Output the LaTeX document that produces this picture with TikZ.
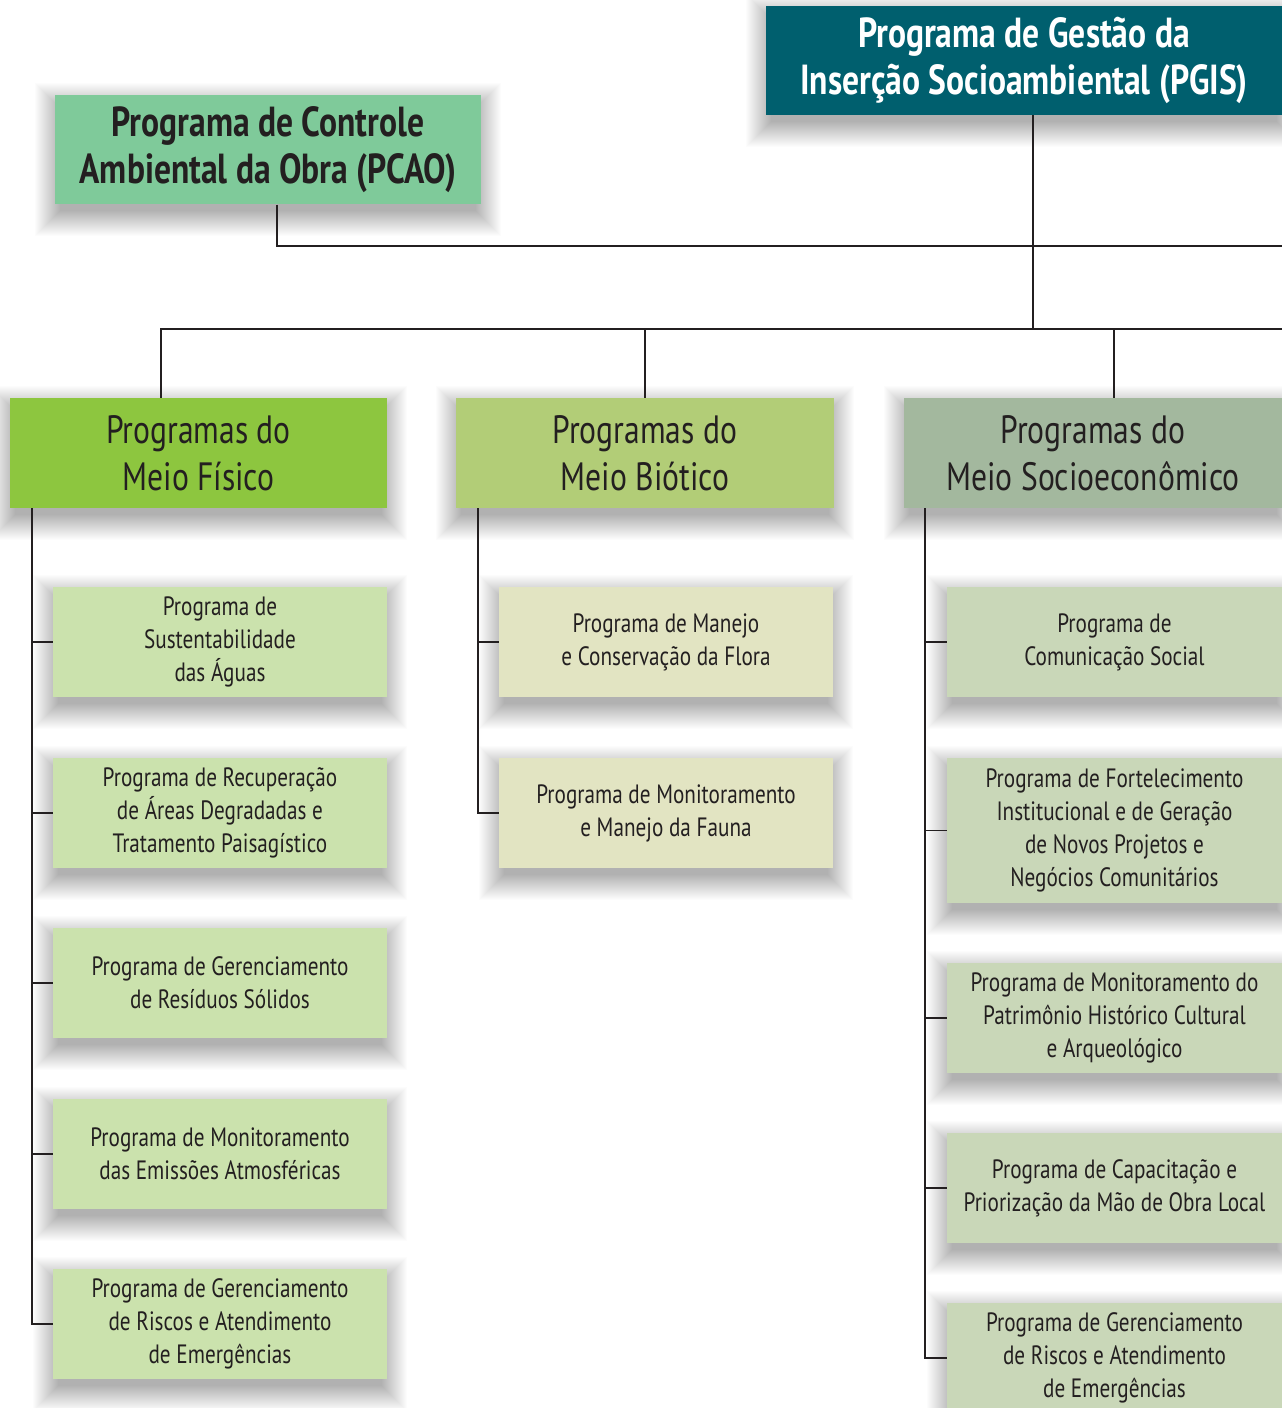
\documentclass[tikz,border=0pt]{standalone}
\usepackage{fontspec}
\setmainfont[FakeStretch=0.80]{PT Sans}
\usetikzlibrary{calc}
\pgfdeclarelayer{shadowlayer}
\pgfsetlayers{shadowlayer,main}
\definecolor{pgisc}{HTML}{005F6E}
\definecolor{pcaoc}{HTML}{7FCA9A}
\definecolor{fisc}{HTML}{8DC63F}
\definecolor{bioc}{HTML}{B2CD77}
\definecolor{socc}{HTML}{A3B89E}
\definecolor{fisl}{HTML}{CBE2AD}
\definecolor{biol}{HTML}{E2E4C2}
\definecolor{socl}{HTML}{C9D7B8}
\definecolor{ink}{HTML}{231F20}
\tikzset{
  boxbase/.style={rectangle, inner sep=0pt, align=center, text=ink},
  topbox/.style={boxbase, minimum height=109, font=\fontsize{42}{47}\selectfont\bfseries},
  headbox/.style={boxbase, minimum width=378, minimum height=110, font=\fontsize{39.5}{47}\selectfont},
  subbox/.style={boxbase, minimum width=335, minimum height=110, font=\fontsize{26.5}{33}\selectfont},
  conn/.style={draw=ink, line width=1.3pt},
  shadowpiece/.style={fill=black, fill opacity=0.011, draw=none}
}
\begin{document}
\begin{tikzpicture}[x=1pt,y=-1pt]
\useasboundingbox (0,0) rectangle (1282,1408);

% top boxes
\node[topbox, fill=pgisc, text=white, minimum width=516] (pgis) at (1024,60.5) {Programa de Gestão da\\Inserção Socioambiental (PGIS)};
\node[topbox, fill=pcaoc, minimum width=426] (pcao) at (268,149.5) {Programa de Controle\\Ambiental da Obra (PCAO)};

% headers
\node[headbox, fill=fisc, minimum width=377] (fis) at (198.5,453) {Programas do\\Meio Físico};
\node[headbox, fill=bioc] (bio) at (645,453) {Programas do\\Meio Biótico};
\node[headbox, fill=socc] (soc) at (1093,453) {Programas do\\Meio Socioeconômico};

% physical
\node[subbox, fill=fisl, minimum width=334] (f1) at (220,642) {Programa de\\Sustentabilidade\\das Águas};
\node[subbox, fill=fisl, minimum width=334] (f2) at (220,813) {Programa de Recuperação\\de Áreas Degradadas e\\Tratamento Paisagístico};
\node[subbox, fill=fisl, minimum width=334] (f3) at (220,983) {Programa de Gerenciamento\\de Resíduos Sólidos};
\node[subbox, fill=fisl, minimum width=334] (f4) at (220,1154) {Programa de Monitoramento\\das Emissões Atmosféricas};
\node[subbox, fill=fisl, minimum width=334] (f5) at (220,1324) {Programa de Gerenciamento\\de Riscos e Atendimento\\de Emergências};

% biotic
\node[subbox, fill=biol, minimum width=334] (b1) at (666,642) {Programa de Manejo\\e Conservação da Flora};
\node[subbox, fill=biol, minimum width=334] (b2) at (666,813) {Programa de Monitoramento\\e Manejo da Fauna};

% socio
\node[subbox, fill=socl] (s1) at (1114.5,642) {Programa de\\Comunicação Social};
\node[subbox, fill=socl, minimum height=145] (s2) at (1114.5,830.5) {Programa de Fortelecimento\\Institucional e de Geração\\de Novos Projetos e\\Negócios Comunitários};
\node[subbox, fill=socl] (s3) at (1114.5,1018) {Programa de Monitoramento do\\Patrimônio Histórico Cultural\\e Arqueológico};
\node[subbox, fill=socl] (s4) at (1114.5,1188) {Programa de Capacitação e\\Priorização da Mão de Obra Local};
\node[subbox, fill=socl] (s5) at (1114.5,1358) {Programa de Gerenciamento\\de Riscos e Atendimento\\de Emergências};

% soft shadows behind boxes
\begin{pgfonlayer}{shadowlayer}
\fill[white] (0,0) rectangle (1282,1408);
\foreach \n in {pgis,pcao,fis,bio,soc,f1,f2,f3,f4,f5,b1,b2,s1,s2,s3,s4,s5}{
  \foreach \e in {1,...,26}{
    \fill[shadowpiece] ($(\n.south west)+(-\e+6,\e+6)$) rectangle ($(\n.north east)+(\e-6,-\e+14)$);
  }
}
\end{pgfonlayer}

% coordinates
\coordinate (pcaoD) at (277,204.5);
\coordinate (pcaoR) at (1282,246);
\coordinate (jn) at (1033,329);
\coordinate (busL) at (161,329);
\coordinate (busR) at (1282,329);
\coordinate (dBio) at (645,329);
\coordinate (dSoc) at (1114,329);
\coordinate (tF) at (32,508);
\coordinate (tB) at (478,508);
\coordinate (tS) at (925,508);

% connectors
\draw[conn] (pcaoD) |- (pcaoR);
\draw[conn] (pgis.south -| jn) -- (jn);
\draw[conn] (busL |- fis.north) -- (busL) -- (busR);
\draw[conn] (dBio) -- (dBio |- bio.north);
\draw[conn] (dSoc) -- (dSoc |- soc.north);

\draw[conn] (tF) |- (f5.west);
\foreach \n in {f1,f2,f3,f4} \draw[conn] (tF |- \n.west) -- (\n.west);
\draw[conn] (tB) |- (b2.west);
\draw[conn] (tB |- b1.west) -- (b1.west);
\draw[conn] (tS) |- (s5.west);
\foreach \n in {s1,s2,s3,s4} \draw[conn] (tS |- \n.west) -- (\n.west);
\end{tikzpicture}
\end{document}
